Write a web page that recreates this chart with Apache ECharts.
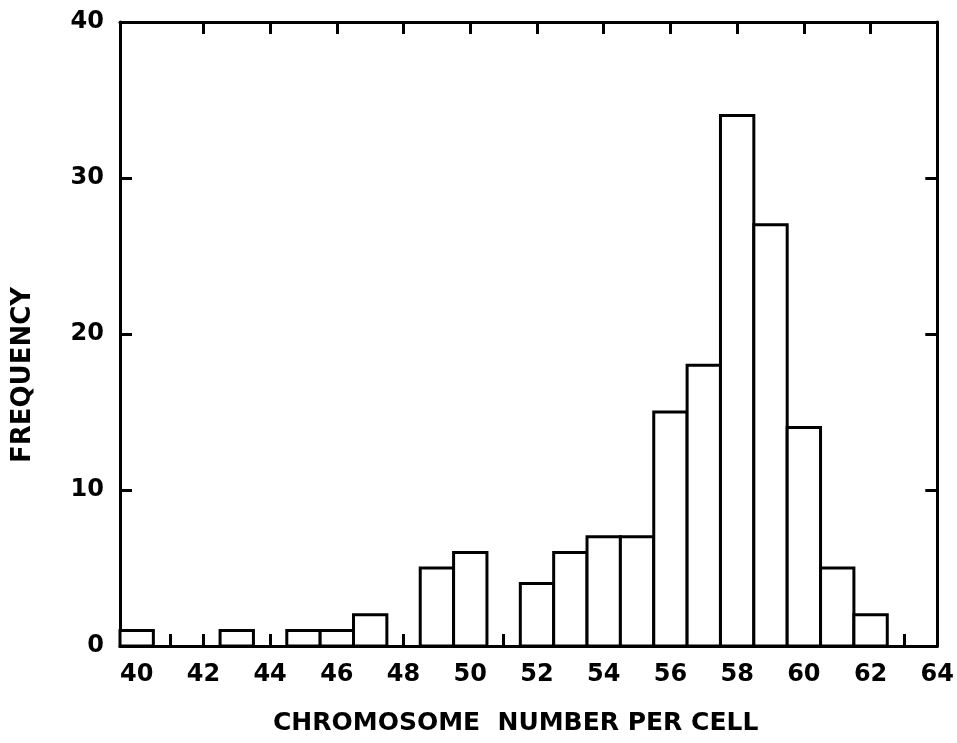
<html>
<head>
<meta charset="UTF-8">
<title>Chromosome number per cell</title>
<script src="https://cdn.jsdelivr.net/npm/echarts@6/dist/echarts.min.js"></script>
<style>html,body,#container{width:100%;height:100%;margin:0;padding:0;background:#fff;}</style>
</head>
<body>
<div id="container"></div>
<script>
// chromosome counts and how many cells had each
var chromosomes = [40, 41, 42, 43, 44, 45, 46, 47, 48, 49, 50, 51, 52, 53, 54, 55, 56, 57, 58, 59, 60, 61, 62, 63];
var frequency   = [1, 0, 0, 1, 0, 1, 1, 2, 0, 5, 6, 0, 4, 6, 7, 7, 15, 18, 34, 27, 14, 5, 2, 0];
var xLabels = [40, 42, 44, 46, 48, 50, 52, 54, 56, 58, 60, 62, 64];
var xMinorTicks = [41, 42, 43, 44, 45, 46, 47, 48, 49, 50, 51, 52, 53, 54, 55, 56, 57, 58, 59, 60, 61, 62, 63];
var xTopTicks = [42, 44, 46, 48, 50, 52, 54, 56, 58, 60, 62];

var font = 'DejaVu Sans';
var black = '#000';

var bars = [];
for (var i = 0; i < chromosomes.length; i++) {
	if (frequency[i] > 0) bars.push([chromosomes[i], frequency[i]]);
}

var chart = echarts.init(document.getElementById('container'));
// onZero off, otherwise the top x axis gets pulled down to y = 0
var line = { show: true, onZero: false, lineStyle: { color: black, width: 3 } };
var tick = function (values) {
	var t = { show: true, inside: true, length: 12, lineStyle: { color: black, width: 3 } };
	if (values) t.customValues = values;
	return t;
};

chart.setOption({
	animation: false,
	backgroundColor: '#fff',
	grid: { left: 120, right: 17, top: 22, bottom: 97 },
	xAxis: [{
		type: 'value', position: 'bottom', min: 39.5, max: 64,
		axisLine: line,
		axisTick: tick(xMinorTicks),
		axisLabel: { customValues: xLabels, color: black, fontFamily: font, fontWeight: 'bold', fontSize: 24, margin: 17 },
		splitLine: { show: false },
		name: 'CHROMOSOME  NUMBER PER CELL',
		nameLocation: 'middle', nameGap: 65,
		nameTextStyle: { color: black, fontFamily: font, fontWeight: 'bold', fontSize: 25, padding: [0, 26, 0, 0] }
	}, {
		type: 'value', position: 'top', min: 39.5, max: 64,
		axisLine: line,
		axisTick: tick(xTopTicks),
		axisLabel: { show: false },
		splitLine: { show: false }
	}],
	yAxis: [{
		type: 'value', position: 'left', min: 0, max: 40, interval: 10,
		axisLine: line,
		axisTick: tick(),
		axisLabel: { color: black, fontFamily: font, fontWeight: 'bold', fontSize: 24, margin: 16 },
		splitLine: { show: false },
		name: 'FREQUENCY',
		nameLocation: 'middle', nameGap: 84, nameRotate: 90,
		nameTextStyle: { color: black, fontFamily: font, fontWeight: 'bold', fontSize: 26, padding: [0, 82, 0, 0] }
	}, {
		type: 'value', position: 'right', min: 0, max: 40, interval: 10,
		axisLine: line,
		axisTick: tick(),
		axisLabel: { show: false },
		splitLine: { show: false }
	}],
	series: [{
		type: 'custom',
		xAxisIndex: 0,
		yAxisIndex: 0,
		data: bars,
		renderItem: function (params, api) {
			var x = api.value(0);
			var p0 = api.coord([x - 0.5, api.value(1)]);
			var p1 = api.coord([x + 0.5, 0]);
			return {
				type: 'rect',
				shape: { x: p0[0], y: p0[1], width: p1[0] - p0[0], height: p1[1] - p0[1] },
				style: { fill: '#fff', stroke: black, lineWidth: 3 }
			};
		}
	}]
});
</script>
</body>
</html>
